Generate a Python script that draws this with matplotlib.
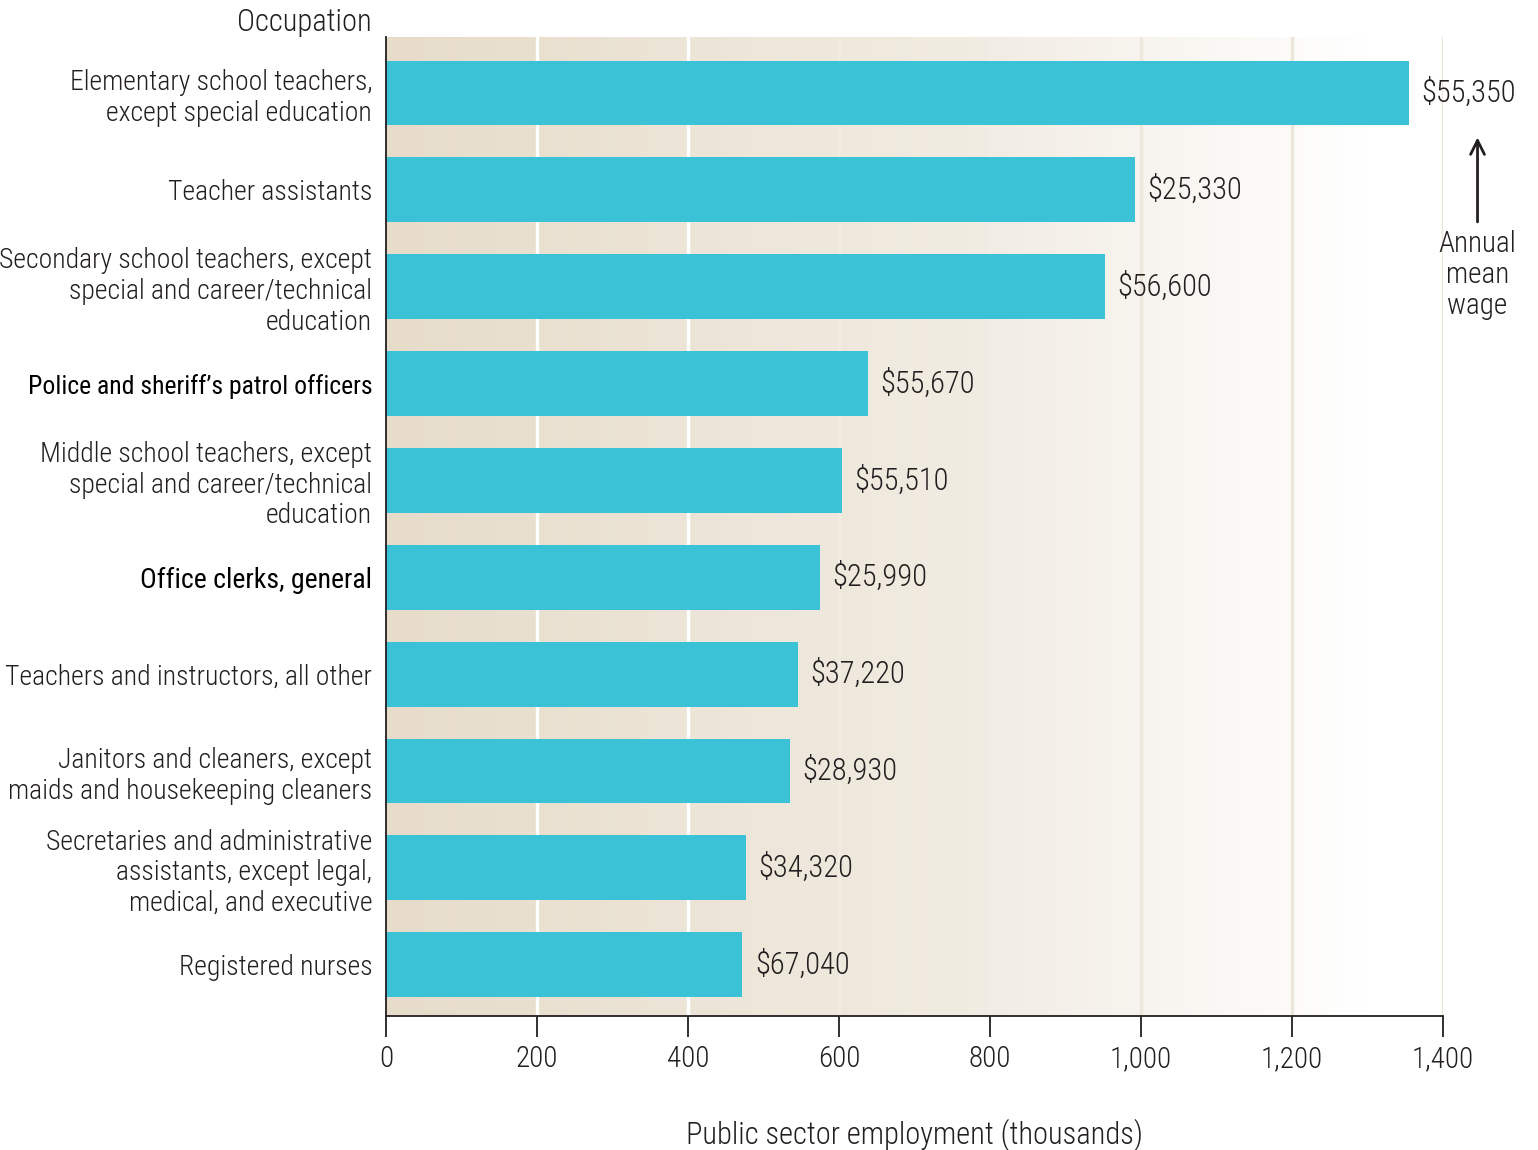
import numpy as np
import matplotlib
matplotlib.use("Agg")
import matplotlib.pyplot as plt
from matplotlib.colors import LinearSegmentedColormap

plt.rcParams['font.family'] = ['Roboto Condensed', 'Archivo Narrow', 'DejaVu Sans']
plt.rcParams['font.weight'] = 'light'

occupations = [
    "Elementary school teachers,\nexcept special education",
    "Teacher assistants",
    "Secondary school teachers, except\nspecial and career/technical\neducation",
    "Police and sheriff\u2019s patrol officers",
    "Middle school teachers, except\nspecial and career/technical\neducation",
    "Office clerks, general",
    "Teachers and instructors, all other",
    "Janitors and cleaners, except\nmaids and housekeeping cleaners",
    "Secretaries and administrative\nassistants, except legal,\nmedical, and executive",
    "Registered nurses",
]
employment = [1355, 992, 952, 638, 604, 575, 546, 535, 477, 472]  # thousands
wages = ["$55,350", "$25,330", "$56,600", "$55,670", "$55,510",
         "$25,990", "$37,220", "$28,930", "$34,320", "$67,040"]
xticks = [0, 200, 400, 600, 800, 1000, 1200, 1400]

text_col = "#231F20"
bar_col = "#3BC2D6"
# gridline colours: white on the tan side, pale beige on the white side
grid_cols = ["#FFFFFF", "#FFFFFF", "#F1EBE1", "#F2EEE5", "#EEE8DC", "#EDE7DA", "#EDE7DA"]

fig = plt.figure(figsize=(15.38, 11.5), dpi=100)
ax = fig.add_axes([0.251, 0.1165, 0.687, 0.8515])

ypos = np.arange(len(occupations))
ax.set_xlim(0, 1400)
ax.set_ylim(9.53, -0.58)

# tan -> white background gradient
bg = LinearSegmentedColormap.from_list("bg", [(0, "#E7DCCA"), (0.55, "#F1ECE2"), (0.93, "#FFFFFF"), (1, "#FFFFFF")])
grad = np.linspace(0, 1, 256).reshape(1, -1)
ax.imshow(grad, cmap=bg, aspect="auto", extent=[0, 1400, 9.53, -0.58], zorder=0)

for x, c in zip(xticks[1:], grid_cols):
    ax.axvline(x, color=c, lw=2.4, zorder=1)

ax.barh(ypos, employment, height=0.67, color=bar_col, zorder=2)

for y, v, w in zip(ypos, employment, wages):
    ax.annotate(w, (v, y), xytext=(9, 0), textcoords="offset points",
                ha="left", va="center", fontsize=22, color=text_col)

ax.set_yticks(ypos)
ax.set_yticklabels(occupations, fontsize=20, color=text_col, linespacing=1.17)
for lab in ax.get_yticklabels():
    if "Police" in lab.get_text() or "Office" in lab.get_text():
        lab.set_color("black")
        lab.set_fontweight("normal")
    if "Police" in lab.get_text():
        lab.set_fontsize(18.5)
ax.tick_params(axis="y", length=0, pad=10)

ax.set_xticks(xticks)
ax.set_xticklabels([f"{t:,}" for t in xticks], fontsize=21, color=text_col)
ax.tick_params(axis="x", length=15, width=1.3, pad=6, color=text_col)

for s in ["top", "right"]:
    ax.spines[s].set_visible(False)
ax.spines["left"].set_linewidth(1.3)
ax.spines["bottom"].set_linewidth(1.3)
ax.spines["left"].set_color(text_col)
ax.spines["bottom"].set_color(text_col)

ax.set_xlabel("Public sector employment (thousands)", fontsize=22, fontweight="light",
              color=text_col, labelpad=33)

ax.text(-0.0135, 1.0, "Occupation", transform=ax.transAxes, ha="right", va="bottom",
        fontsize=22, color=text_col)

# annual mean wage note
ax.annotate("", xy=(1.033, 0.43), xytext=(1.033, 1.36),
            xycoords=("axes fraction", "data"), textcoords=("axes fraction", "data"),
            arrowprops=dict(arrowstyle="->", color=text_col, lw=2, mutation_scale=25))
ax.text(1.033, 1.88, "Annual\nmean\nwage", transform=ax.get_yaxis_transform(),
        ha="center", va="center", fontsize=21, color=text_col, linespacing=1.15)

fig.savefig("out.png", dpi=100)
